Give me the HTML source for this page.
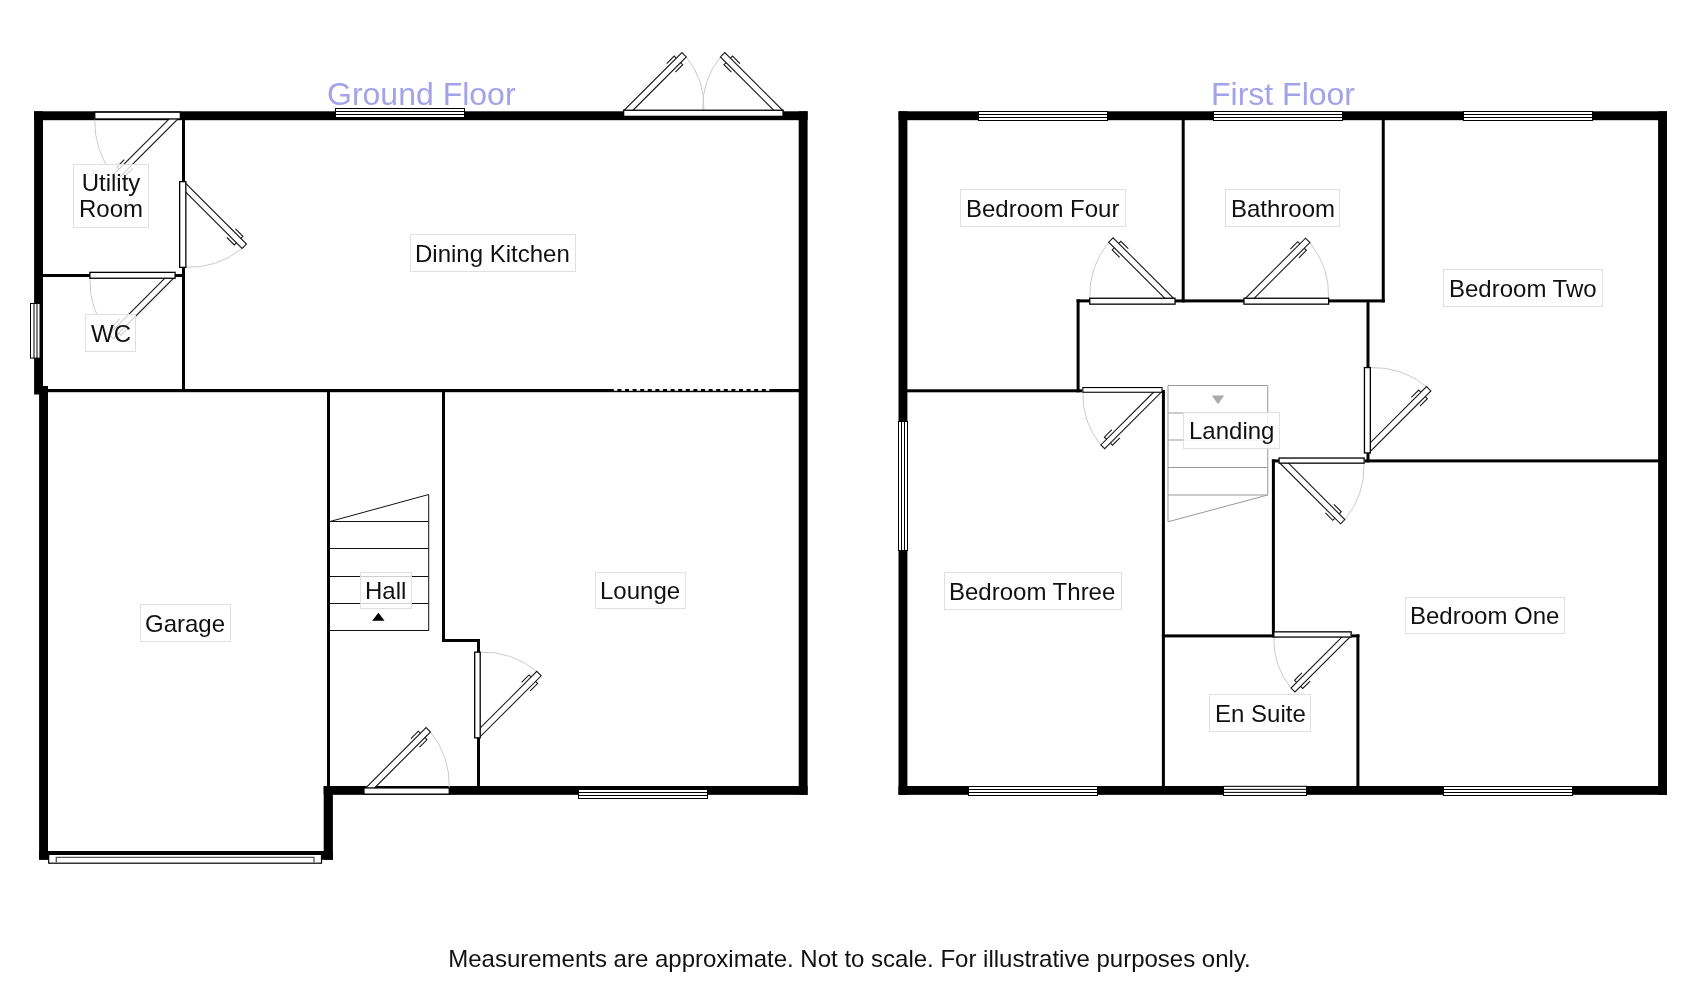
<!DOCTYPE html>
<html><head><meta charset="utf-8"><title>Floor plan</title>
<style>
html,body{margin:0;padding:0;background:#fff}
body{width:1693px;height:1002px;position:relative;overflow:hidden;font-family:"Liberation Sans",sans-serif;color:#111}
svg{position:absolute;left:0;top:0}
.lb{position:absolute;box-sizing:border-box;border:1px solid #e0e0e0;background:rgba(255,255,255,.8);display:flex;align-items:center;justify-content:center;text-align:center;font-size:24px;line-height:26px;white-space:nowrap}
.lb span{will-change:transform;position:relative;top:.7px}
.ttl{position:absolute;will-change:transform;font-size:32px;line-height:36px;color:#a3a3ea;white-space:nowrap}
.ft{position:absolute;will-change:transform;left:2.5px;width:1693px;top:945px;text-align:center;font-size:24px;line-height:28px;color:#111;white-space:nowrap}
</style></head><body>
<svg width="1693" height="1002" viewBox="0 0 1693 1002">
<rect x="34.10" y="111.30" width="773.50" height="8.90" fill="#000" />
<rect x="34.10" y="111.30" width="8.90" height="283.20" fill="#000" />
<rect x="39.10" y="386.00" width="8.90" height="473.70" fill="#000" />
<rect x="39.10" y="851.00" width="293.80" height="8.70" fill="#000" />
<rect x="323.70" y="786.00" width="9.20" height="73.70" fill="#000" />
<rect x="323.70" y="786.00" width="483.90" height="8.85" fill="#000" />
<rect x="798.70" y="111.30" width="8.90" height="683.55" fill="#000" />
<rect x="182.00" y="120.00" width="3.00" height="272.00" fill="#000" />
<rect x="43.00" y="274.00" width="139.00" height="3.00" fill="#000" />
<rect x="43.00" y="389.00" width="756.00" height="3.20" fill="#000" />
<rect x="327.00" y="392.00" width="3.00" height="395.00" fill="#000" />
<rect x="442.00" y="392.00" width="3.00" height="250.00" fill="#000" />
<rect x="442.00" y="639.00" width="38.00" height="3.00" fill="#000" />
<rect x="477.00" y="639.00" width="3.00" height="148.00" fill="#000" />
<line x1="613.80" y1="389.80" x2="770.00" y2="389.80" stroke="#fff" stroke-width="1.7" stroke-dasharray="3.6 4"/>
<line x1="330.00" y1="521.50" x2="428.70" y2="521.50" stroke="#111" stroke-width="1" />
<line x1="330.00" y1="548.50" x2="428.70" y2="548.50" stroke="#111" stroke-width="1" />
<line x1="330.00" y1="576.50" x2="428.70" y2="576.50" stroke="#111" stroke-width="1" />
<line x1="330.00" y1="603.50" x2="428.70" y2="603.50" stroke="#111" stroke-width="1" />
<line x1="330.00" y1="630.50" x2="428.70" y2="630.50" stroke="#111" stroke-width="1" />
<line x1="428.70" y1="494.50" x2="428.70" y2="631.00" stroke="#111" stroke-width="1" />
<line x1="330.00" y1="521.50" x2="428.70" y2="494.50" stroke="#111" stroke-width="1" />
<polygon points="372.2,620.8 384.6,620.8 378.4,612.7" fill="#000"/>
<rect x="335.50" y="108.50" width="129.00" height="9.00" fill="#fff" stroke="#000" stroke-width="1"/>
<line x1="335.50" y1="111.50" x2="464.50" y2="111.50" stroke="#000" stroke-width="1" />
<line x1="335.50" y1="114.50" x2="464.50" y2="114.50" stroke="#000" stroke-width="1" />
<rect x="30.5" y="303.5" width="9.5" height="54.6" fill="#fff" stroke="#000" stroke-width="1"/>
<line x1="34.00" y1="303.50" x2="34.00" y2="358.10" stroke="#000" stroke-width="1" />
<line x1="37.00" y1="303.50" x2="37.00" y2="358.10" stroke="#000" stroke-width="1" />
<rect x="578.50" y="789.50" width="129.00" height="9.00" fill="#fff" stroke="#000" stroke-width="1"/>
<line x1="578.50" y1="792.50" x2="707.50" y2="792.50" stroke="#000" stroke-width="1" />
<line x1="578.50" y1="795.50" x2="707.50" y2="795.50" stroke="#000" stroke-width="1" />
<rect x="48.7" y="854.4" width="272.8" height="8.8" fill="#fff" stroke="#000" stroke-width="1.2"/>
<polyline points="56.3,862.6 56.3,857.4 314,857.4 314,862.6" fill="none" stroke="#555" stroke-width="1.3"/>
<path d="M94.75 118.95A85.60 85.60 0 0 0 113.31 174.81" fill="none" stroke="#cbcbcb" stroke-width="1"/>
<polygon points="174.76,113.36 113.31,174.81 117.69,179.19 179.14,117.74" fill="#fff" stroke="#1a1a1a" stroke-width="1.1"/>
<polyline points="123.35,173.53 125.47,175.65 132.90,168.23" fill="none" stroke="#1a1a1a" stroke-width="1.1"/>
<polyline points="118.97,169.15 116.85,167.03 124.27,159.60" fill="none" stroke="#1a1a1a" stroke-width="1.1"/>
<path d="M185.85 267.35A85.70 85.70 0 0 0 242.08 248.46" fill="none" stroke="#cbcbcb" stroke-width="1"/>
<polygon points="180.56,186.94 242.08,248.46 246.46,244.08 184.94,182.56" fill="#fff" stroke="#1a1a1a" stroke-width="1.1"/>
<polyline points="240.80,238.42 242.92,236.30 235.50,228.87" fill="none" stroke="#1a1a1a" stroke-width="1.1"/>
<polyline points="236.42,242.80 234.30,244.92 226.87,237.50" fill="none" stroke="#1a1a1a" stroke-width="1.1"/>
<path d="M89.90 278.25A85.20 85.20 0 0 0 108.79 334.27" fill="none" stroke="#cbcbcb" stroke-width="1"/>
<polygon points="169.96,273.11 108.79,334.27 113.18,338.66 174.34,277.49" fill="#fff" stroke="#1a1a1a" stroke-width="1.1"/>
<polyline points="118.83,333.00 120.96,335.12 128.38,327.70" fill="none" stroke="#1a1a1a" stroke-width="1.1"/>
<polyline points="114.45,328.62 112.33,326.49 119.75,319.07" fill="none" stroke="#1a1a1a" stroke-width="1.1"/>
<path d="M703.95 110.25A80.30 80.30 0 0 0 686.29 56.94" fill="none" stroke="#cbcbcb" stroke-width="1"/>
<polygon points="627.74,115.49 686.29,56.94 681.91,52.56 623.36,111.11" fill="#fff" stroke="#1a1a1a" stroke-width="1.1"/>
<polyline points="676.25,58.22 674.13,56.10 666.70,63.52" fill="none" stroke="#1a1a1a" stroke-width="1.1"/>
<polyline points="680.63,62.60 682.75,64.72 675.33,72.15" fill="none" stroke="#1a1a1a" stroke-width="1.1"/>
<path d="M702.75 110.25A80.30 80.30 0 0 1 720.41 56.94" fill="none" stroke="#cbcbcb" stroke-width="1"/>
<polygon points="778.96,115.49 720.41,56.94 724.79,52.56 783.34,111.11" fill="#fff" stroke="#1a1a1a" stroke-width="1.1"/>
<polyline points="730.45,58.22 732.57,56.10 740.00,63.52" fill="none" stroke="#1a1a1a" stroke-width="1.1"/>
<polyline points="726.07,62.60 723.95,64.72 731.37,72.15" fill="none" stroke="#1a1a1a" stroke-width="1.1"/>
<path d="M480.20 652.15A85.70 85.70 0 0 1 536.78 671.39" fill="none" stroke="#cbcbcb" stroke-width="1"/>
<polygon points="475.26,732.91 536.78,671.39 541.16,675.77 479.64,737.29" fill="#fff" stroke="#1a1a1a" stroke-width="1.1"/>
<polyline points="535.50,681.43 537.62,683.55 530.20,690.98" fill="none" stroke="#1a1a1a" stroke-width="1.1"/>
<polyline points="531.12,677.05 529.00,674.93 521.57,682.35" fill="none" stroke="#1a1a1a" stroke-width="1.1"/>
<path d="M449.25 787.95A85.30 85.30 0 0 0 430.48 732.01" fill="none" stroke="#cbcbcb" stroke-width="1"/>
<polygon points="369.24,793.24 430.48,732.01 426.09,727.62 364.86,788.86" fill="#fff" stroke="#1a1a1a" stroke-width="1.1"/>
<polyline points="420.44,733.28 418.32,731.16 410.89,738.58" fill="none" stroke="#1a1a1a" stroke-width="1.1"/>
<polyline points="424.82,737.66 426.94,739.78 419.52,747.21" fill="none" stroke="#1a1a1a" stroke-width="1.1"/>
<rect x="898.50" y="111.30" width="768.50" height="8.90" fill="#000" />
<rect x="898.50" y="111.30" width="8.90" height="683.55" fill="#000" />
<rect x="898.50" y="786.00" width="768.50" height="8.85" fill="#000" />
<rect x="1658.10" y="111.30" width="8.90" height="683.55" fill="#000" />
<rect x="1181.70" y="120.00" width="3.00" height="182.40" fill="#000" />
<rect x="1381.75" y="120.00" width="3.00" height="182.40" fill="#000" />
<rect x="1076.60" y="299.40" width="308.15" height="3.00" fill="#000" />
<rect x="1076.60" y="299.40" width="3.00" height="92.90" fill="#000" />
<rect x="907.00" y="389.30" width="175.00" height="3.00" fill="#000" />
<rect x="1161.90" y="390.00" width="3.00" height="396.50" fill="#000" />
<rect x="1366.50" y="302.00" width="3.00" height="160.40" fill="#000" />
<rect x="1365.00" y="459.40" width="294.00" height="3.00" fill="#000" />
<rect x="1271.90" y="459.40" width="3.00" height="178.00" fill="#000" />
<rect x="1271.90" y="459.40" width="7.10" height="3.00" fill="#000" />
<rect x="1161.90" y="634.40" width="112.10" height="3.00" fill="#000" />
<rect x="1356.40" y="634.40" width="3.00" height="152.10" fill="#000" />
<rect x="1351.00" y="634.40" width="8.40" height="3.00" fill="#000" />
<line x1="1168.00" y1="385.50" x2="1267.75" y2="385.50" stroke="#999" stroke-width="1" />
<line x1="1168.00" y1="413.00" x2="1267.75" y2="413.00" stroke="#999" stroke-width="1" />
<line x1="1168.00" y1="440.00" x2="1267.75" y2="440.00" stroke="#999" stroke-width="1" />
<line x1="1168.00" y1="467.50" x2="1267.75" y2="467.50" stroke="#999" stroke-width="1" />
<line x1="1168.00" y1="495.00" x2="1267.75" y2="495.00" stroke="#999" stroke-width="1" />
<line x1="1168.00" y1="385.50" x2="1168.00" y2="521.75" stroke="#999" stroke-width="1" />
<line x1="1267.75" y1="385.50" x2="1267.75" y2="495.00" stroke="#999" stroke-width="1" />
<line x1="1267.75" y1="495.00" x2="1168.00" y2="521.75" stroke="#999" stroke-width="1" />
<polygon points="1211.8,395.5 1224.3,395.5 1218,404.3" fill="#aaa"/>
<rect x="978.50" y="111.50" width="129.00" height="9.00" fill="#fff" stroke="#000" stroke-width="1"/>
<line x1="978.50" y1="114.50" x2="1107.50" y2="114.50" stroke="#000" stroke-width="1" />
<line x1="978.50" y1="117.50" x2="1107.50" y2="117.50" stroke="#000" stroke-width="1" />
<rect x="1213.50" y="111.50" width="129.00" height="9.00" fill="#fff" stroke="#000" stroke-width="1"/>
<line x1="1213.50" y1="114.50" x2="1342.50" y2="114.50" stroke="#000" stroke-width="1" />
<line x1="1213.50" y1="117.50" x2="1342.50" y2="117.50" stroke="#000" stroke-width="1" />
<rect x="1463.50" y="111.50" width="129.00" height="9.00" fill="#fff" stroke="#000" stroke-width="1"/>
<line x1="1463.50" y1="114.50" x2="1592.50" y2="114.50" stroke="#000" stroke-width="1" />
<line x1="1463.50" y1="117.50" x2="1592.50" y2="117.50" stroke="#000" stroke-width="1" />
<rect x="898.50" y="421.50" width="9.00" height="129.00" fill="#fff" stroke="#000" stroke-width="1"/>
<line x1="901.50" y1="421.50" x2="901.50" y2="550.50" stroke="#000" stroke-width="1" />
<line x1="904.50" y1="421.50" x2="904.50" y2="550.50" stroke="#000" stroke-width="1" />
<rect x="968.50" y="786.50" width="129.00" height="9.00" fill="#fff" stroke="#000" stroke-width="1"/>
<line x1="968.50" y1="789.50" x2="1097.50" y2="789.50" stroke="#000" stroke-width="1" />
<line x1="968.50" y1="792.50" x2="1097.50" y2="792.50" stroke="#000" stroke-width="1" />
<rect x="1223.5" y="786.3" width="83" height="9.2" fill="#fff" stroke="#000" stroke-width="1"/>
<line x1="1223.50" y1="789.35" x2="1306.50" y2="789.35" stroke="#000" stroke-width="1" />
<line x1="1223.50" y1="792.40" x2="1306.50" y2="792.40" stroke="#000" stroke-width="1" />
<rect x="1443.50" y="786.50" width="129.00" height="9.00" fill="#fff" stroke="#000" stroke-width="1"/>
<line x1="1443.50" y1="789.50" x2="1572.50" y2="789.50" stroke="#000" stroke-width="1" />
<line x1="1443.50" y1="792.50" x2="1572.50" y2="792.50" stroke="#000" stroke-width="1" />
<path d="M1089.75 298.25A85.30 85.30 0 0 1 1108.67 242.16" fill="none" stroke="#cbcbcb" stroke-width="1"/>
<polygon points="1169.91,303.39 1108.67,242.16 1113.06,237.77 1174.29,299.01" fill="#fff" stroke="#1a1a1a" stroke-width="1.1"/>
<polyline points="1118.71,243.43 1120.83,241.31 1128.26,248.73" fill="none" stroke="#1a1a1a" stroke-width="1.1"/>
<polyline points="1114.33,247.81 1112.21,249.93 1119.63,257.36" fill="none" stroke="#1a1a1a" stroke-width="1.1"/>
<path d="M1328.65 298.25A84.70 84.70 0 0 0 1309.90 242.58" fill="none" stroke="#cbcbcb" stroke-width="1"/>
<polygon points="1249.09,303.39 1309.90,242.58 1305.52,238.20 1244.71,299.01" fill="#fff" stroke="#1a1a1a" stroke-width="1.1"/>
<polyline points="1299.86,243.85 1297.74,241.73 1290.32,249.16" fill="none" stroke="#1a1a1a" stroke-width="1.1"/>
<polyline points="1304.25,248.24 1306.37,250.36 1298.94,257.78" fill="none" stroke="#1a1a1a" stroke-width="1.1"/>
<path d="M1082.85 392.25A79.20 79.20 0 0 0 1100.87 444.91" fill="none" stroke="#cbcbcb" stroke-width="1"/>
<polygon points="1157.79,387.99 1100.87,444.91 1104.69,448.73 1161.61,391.81" fill="#fff" stroke="#1a1a1a" stroke-width="1.1"/>
<polyline points="1110.34,443.07 1112.47,445.20 1119.89,437.77" fill="none" stroke="#1a1a1a" stroke-width="1.1"/>
<polyline points="1106.53,439.26 1104.40,437.13 1111.83,429.71" fill="none" stroke="#1a1a1a" stroke-width="1.1"/>
<path d="M1370.35 367.55A85.40 85.40 0 0 1 1426.51 386.50" fill="none" stroke="#cbcbcb" stroke-width="1"/>
<polygon points="1365.21,447.81 1426.51,386.50 1430.90,390.89 1369.59,452.19" fill="#fff" stroke="#1a1a1a" stroke-width="1.1"/>
<polyline points="1425.24,396.54 1427.36,398.66 1419.94,406.09" fill="none" stroke="#1a1a1a" stroke-width="1.1"/>
<polyline points="1420.86,392.16 1418.74,390.04 1411.31,397.46" fill="none" stroke="#1a1a1a" stroke-width="1.1"/>
<path d="M1364.15 463.15A85.10 85.10 0 0 1 1344.82 519.57" fill="none" stroke="#cbcbcb" stroke-width="1"/>
<polygon points="1283.72,458.48 1344.82,519.57 1340.57,523.82 1279.48,462.72" fill="#fff" stroke="#1a1a1a" stroke-width="1.1"/>
<polyline points="1334.92,518.16 1332.79,520.28 1325.37,512.86" fill="none" stroke="#1a1a1a" stroke-width="1.1"/>
<polyline points="1339.16,513.92 1341.28,511.79 1333.86,504.37" fill="none" stroke="#1a1a1a" stroke-width="1.1"/>
<path d="M1273.85 637.05A77.30 77.30 0 0 0 1290.99 688.05" fill="none" stroke="#cbcbcb" stroke-width="1"/>
<polygon points="1346.57,632.47 1290.99,688.05 1294.95,692.01 1350.53,636.43" fill="#fff" stroke="#1a1a1a" stroke-width="1.1"/>
<polyline points="1300.61,686.35 1302.73,688.47 1310.15,681.05" fill="none" stroke="#1a1a1a" stroke-width="1.1"/>
<polyline points="1296.65,682.39 1294.53,680.27 1301.95,672.85" fill="none" stroke="#1a1a1a" stroke-width="1.1"/>
<rect x="94.75" y="112.15" width="85.60" height="6.80" fill="#fff" stroke="#000" stroke-width="1.3"/>
<rect x="179.65" y="181.65" width="6.20" height="85.70" fill="#fff" stroke="#000" stroke-width="1.3"/>
<rect x="89.90" y="272.35" width="85.20" height="5.90" fill="#fff" stroke="#000" stroke-width="1.3"/>
<rect x="623.65" y="110.25" width="159.40" height="6.10" fill="#fff" stroke="#000" stroke-width="1.3"/>
<rect x="474.70" y="652.15" width="5.50" height="85.70" fill="#fff" stroke="#000" stroke-width="1.3"/>
<rect x="363.95" y="787.95" width="85.30" height="6.20" fill="#fff" stroke="#000" stroke-width="1.3"/>
<rect x="1089.75" y="298.25" width="85.30" height="5.90" fill="#fff" stroke="#000" stroke-width="1.3"/>
<rect x="1243.95" y="298.25" width="84.70" height="5.90" fill="#fff" stroke="#000" stroke-width="1.3"/>
<rect x="1082.85" y="387.55" width="79.20" height="4.70" fill="#fff" stroke="#000" stroke-width="1.1"/>
<rect x="1364.45" y="367.55" width="5.90" height="85.40" fill="#fff" stroke="#000" stroke-width="1.3"/>
<rect x="1279.05" y="458.05" width="85.10" height="5.10" fill="#fff" stroke="#000" stroke-width="1.3"/>
<rect x="1273.85" y="631.85" width="77.30" height="5.20" fill="#fff" stroke="#000" stroke-width="1.3"/>
</svg>
<div class="ttl" style="left:327px;top:75.5px">Ground Floor</div>
<div class="ttl" style="left:1211px;top:75.5px">First Floor</div>
<div class="lb" style="left:73.00px;top:163.70px;width:75.90px;height:64.10px"><span style="left:0.25px">Utility<br>Room</span></div>
<div class="lb" style="left:85.20px;top:314.00px;width:51.00px;height:38.00px"><span style="left:0.50px">WC</span></div>
<div class="lb" style="left:409.90px;top:234.00px;width:166.20px;height:37.70px"><span style="left:-0.20px">Dining Kitchen</span></div>
<div class="lb" style="left:140.00px;top:604.00px;width:91.10px;height:37.70px"><span style="left:-0.15px">Garage</span></div>
<div class="lb" style="left:359.80px;top:571.70px;width:51.80px;height:37.80px"><span style="left:0.00px">Hall</span></div>
<div class="lb" style="left:595.00px;top:571.60px;width:91.10px;height:37.50px"><span style="left:-0.65px">Lounge</span></div>
<div class="lb" style="left:960.40px;top:189.00px;width:165.70px;height:38.10px"><span style="left:-0.95px">Bedroom Four</span></div>
<div class="lb" style="left:1224.80px;top:189.00px;width:115.70px;height:38.10px"><span style="left:-0.05px">Bathroom</span></div>
<div class="lb" style="left:1442.75px;top:269.00px;width:159.75px;height:37.75px"><span style="left:-0.08px">Bedroom Two</span></div>
<div class="lb" style="left:1183.25px;top:411.50px;width:96.75px;height:37.25px"><span style="left:-0.08px">Landing</span></div>
<div class="lb" style="left:944.00px;top:572.00px;width:177.75px;height:38.00px"><span style="left:-0.32px">Bedroom Three</span></div>
<div class="lb" style="left:1405.20px;top:596.60px;width:160.05px;height:37.80px"><span style="left:-0.48px">Bedroom One</span></div>
<div class="lb" style="left:1209.40px;top:694.00px;width:102.00px;height:37.70px"><span style="left:-0.30px">En Suite</span></div>
<div class="ft">Measurements are approximate. Not to scale. For illustrative purposes only.</div>
</body></html>
